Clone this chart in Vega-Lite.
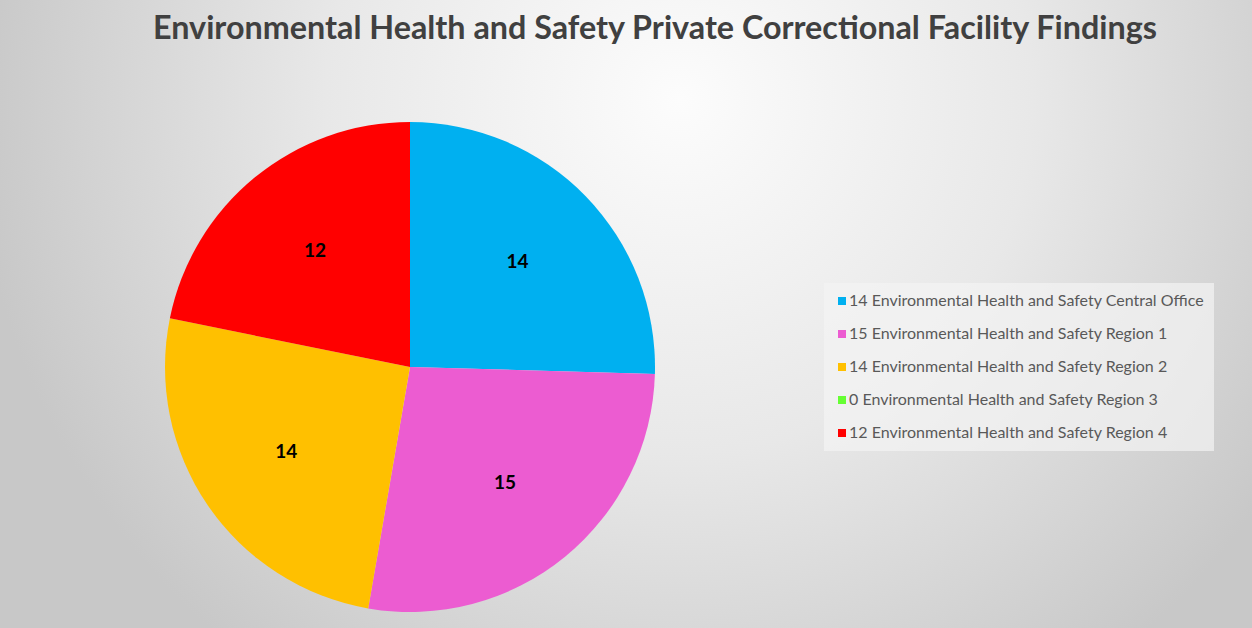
{
  "$schema": "https://vega.github.io/schema/vega-lite/v6.json",
  "width": 1684,
  "height": 1684,
  "autosize": {"type": "none"},
  "padding": {"left": -432, "top": -475, "right": 0, "bottom": -581},
  "background": "white",
  "config": {"view": {"stroke": null}},
  "title": {
    "text": "Environmental Health and Safety Private Correctional Facility Findings",
    "font": "Lato",
    "fontSize": 32.3,
    "fontWeight": "bold",
    "color": "#404040",
    "anchor": "middle",
    "frame": "group",
    "dx": 245,
    "offset": -520
  },
  "layer": [
    {
      "data": {"values": [{"bg": 1}]},
      "mark": {
        "type": "rect",
        "fill": {
          "gradient": "radial",
          "x1": 0.66, "y1": 0.341, "r1": 0,
          "x2": 0.66, "y2": 0.341, "r2": 0.42,
          "stops": [
            {"offset": 0, "color": "#fcfcfc"},
            {"offset": 0.5, "color": "#e8e8e8"},
            {"offset": 1, "color": "#c8c8c8"}
          ]
        }
      },
      "encoding": {}
    },
    {
      "data": {
        "values": [
          {"region": "Central Office", "value": 14, "label": "14 Environmental Health and Safety Central Office"},
          {"region": "Region 1", "value": 15, "label": "15 Environmental Health and Safety Region 1"},
          {"region": "Region 2", "value": 14, "label": "14 Environmental Health and Safety Region 2"},
          {"region": "Region 3", "value": 0, "label": "0 Environmental Health and Safety Region 3"},
          {"region": "Region 4", "value": 12, "label": "12 Environmental Health and Safety Region 4"}
        ]
      },
      "encoding": {
        "theta": {"field": "value", "type": "quantitative", "stack": true},
        "order": {"field": "region", "type": "ordinal"}
      },
      "layer": [
        {
          "mark": {"type": "arc", "outerRadius": 245},
          "encoding": {
            "color": {
              "field": "label",
              "type": "nominal",
              "scale": {
                "domain": [
                  "14 Environmental Health and Safety Central Office",
                  "15 Environmental Health and Safety Region 1",
                  "14 Environmental Health and Safety Region 2",
                  "0 Environmental Health and Safety Region 3",
                  "12 Environmental Health and Safety Region 4"
                ],
                "range": ["#00B0F0", "#EC5CD1", "#FFC000", "#66FF33", "#FF0000"]
              },
              "legend": {
                "title": null,
                "orient": "none",
                "legendX": 1256,
                "legendY": 758,
                "symbolType": "square",
                "symbolSize": 64,
                "symbolStrokeWidth": 0,
                "labelFont": "Lato",
                "labelFontSize": 16,
                "labelColor": "#595959",
                "labelLimit": 0,
                "labelOffset": -1,
                "rowPadding": 17,
                "padding": 10,
                "fillColor": "rgba(243,243,243,0.7)"
              }
            }
          }
        },
        {
          "transform": [{"filter": "datum.value > 0"}],
          "mark": {"type": "text", "radius": 150, "font": "Lato", "fontSize": 19, "fontWeight": "bold", "color": "black"},
          "encoding": {
            "text": {"field": "value", "type": "quantitative"}
          }
        }
      ]
    }
  ]
}
